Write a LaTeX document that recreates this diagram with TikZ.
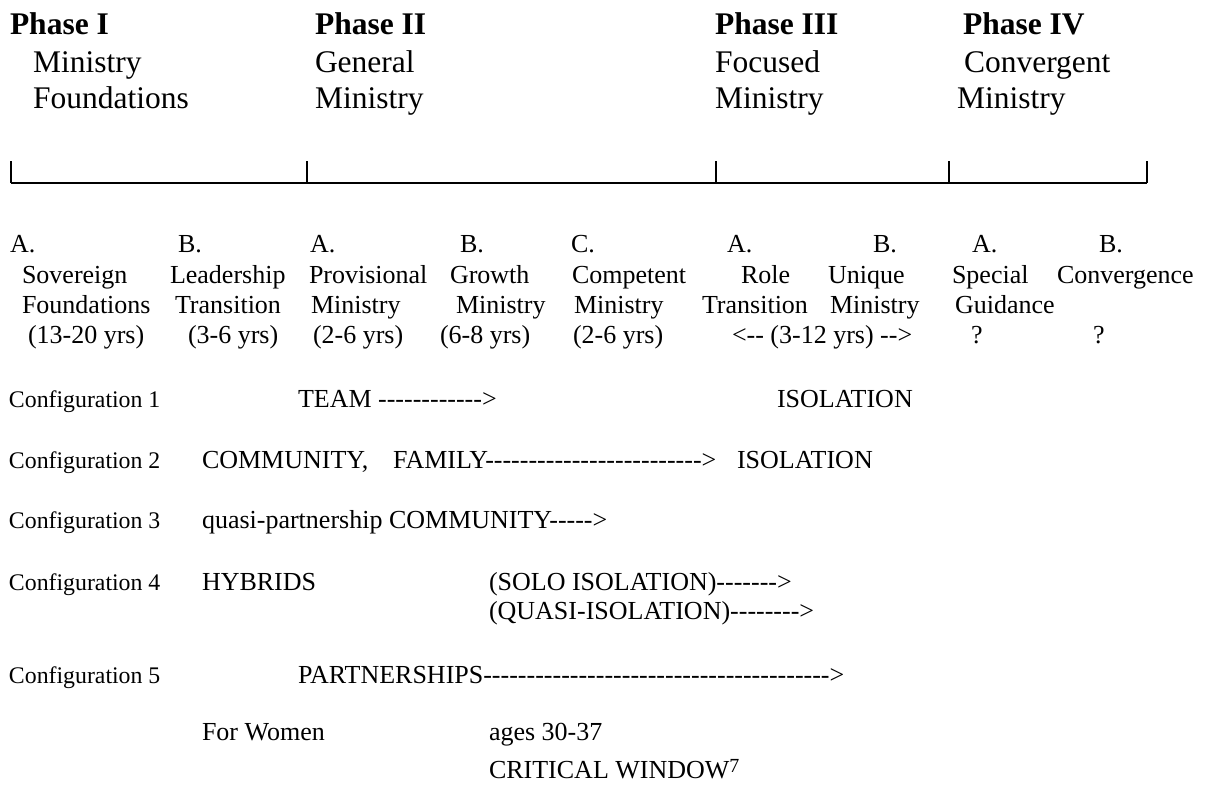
\documentclass[tikz,border=0pt]{standalone}
\usepackage{fontspec}
\setmainfont{Liberation Serif}[Ligatures=TeXOff]
\begin{document}
\begin{tikzpicture}[x=1pt,y=-1pt,
                   every node/.style={anchor=base west,inner sep=0pt,outer sep=0pt},
                   phase/.style={font=\fontsize{31.5}{36}\selectfont\bfseries},
                   head/.style={font=\fontsize{31.5}{36}\selectfont},
                   row/.style={font=\fontsize{26}{30}\selectfont},
                   cfg/.style={font=\fontsize{23.8}{28}\selectfont},
                   bar/.style={line width=1.5pt}, tick/.style={line width=1.7pt}]
\useasboundingbox (0,0) rectangle (1206,784);
\node[phase] (p1) at (10,35) {Phase I};
\node[head] (p1a) at (33,72) {Ministry};
\node[head] (p1b) at (33,108) {Foundations};
\node[phase] (p2) at (315,35) {Phase II};
\node[head] (p2a) at (315,72) {General};
\node[head] (p2b) at (315,108) {Ministry};
\node[phase] (p3) at (715,35) {Phase III};
\node[head] (p3a) at (715,72) {Focused};
\node[head] (p3b) at (715,108) {Ministry};
\node[phase] (p4) at (963,35) {Phase IV};
\node[head] (p4a) at (964,72) {Convergent};
\node[head] (p4b) at (957,108) {Ministry};

\foreach \x [count=\i] in {11,307,716,949,1147} \coordinate (t\i) at (\x,183);
\draw[bar] (t1) -- (t5);
\foreach \i in {1,...,5} \draw[tick] (t\i) -- ++(0,-22);

\foreach \x/\t [count=\i] in {10/A., 178/B., 310/A., 460/B., 571/C., 727/A., 873/B., 972/A., 1099/B.}
  \node[row] (l\i) at (\x,252) {\t};
\foreach \x/\t [count=\i] in {22/Sovereign, 170/Leadership, 309/Provisional, 450/Growth, 572/Competent, 741/Role, 828/Unique, 952/Special, 1057/Convergence}
  \node[row] (m\i) at (\x,283) {\t};
\foreach \x/\t [count=\i] in {22/Foundations, 175/Transition, 311/Ministry, 456/Ministry, 574/Ministry, 702/Transition, 830/Ministry, 955/Guidance}
  \node[row] (n\i) at (\x,313) {\t};
\foreach \x/\t [count=\i] in {28/{(13-20 yrs)}, 188/{(3-6 yrs)}, 313/{(2-6 yrs)}, 440/{(6-8 yrs)}, 573/{(2-6 yrs)}, 732/{<-- (3-12 yrs) -->}, 971/?, 1093/?}
  \node[row] (y\i) at (\x,343) {\t};

\foreach \y [count=\i] in {407,468,528,590,683} \node[cfg] (c\i) at (9,\y) {Configuration \i};
\node[row] (team) at (298,407) {TEAM ------------>};
\node[row] (iso1) at (777,407) {ISOLATION};
\node[row] (comm) at (202,468) {COMMUNITY,};
\node[row] (fam) at (393,468) {FAMILY------------------------->};
\node[row] (iso2) at (737,468) {ISOLATION};
\node[row] (quasi) at (202,528) {quasi-partnership COMMUNITY----->};
\node[row] (hyb) at (202,590) {HYBRIDS};
\node[row] (solo) at (489,590) {(SOLO ISOLATION)------->};
\node[row] (qiso) at (489,619) {(QUASI-ISOLATION)-------->};
\node[row] (part) at (298,683) {PARTNERSHIPS---------------------------------------->};
\node[row] (women) at (202,740) {For Women};
\node[row] (ages) at (489,740) {ages 30-37};
\node[row] (crit) at (489,778) {CRITICAL WINDOW\raisebox{6pt}{\fontsize{20}{20}\selectfont 7}};
\end{tikzpicture}
\end{document}
